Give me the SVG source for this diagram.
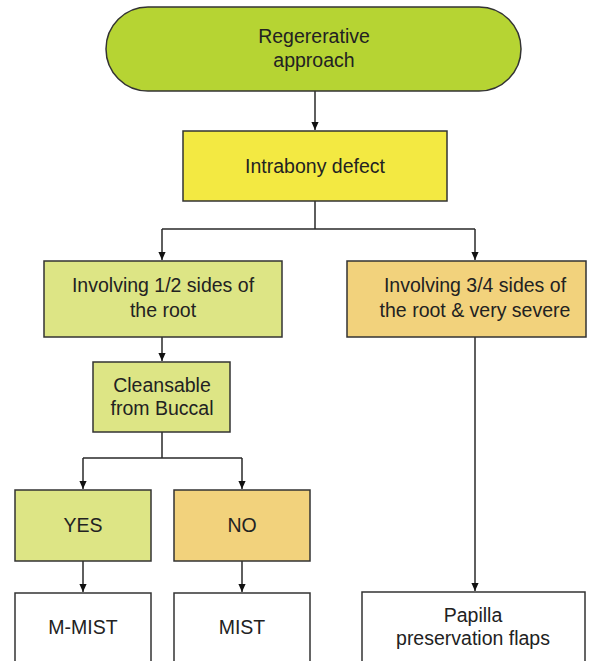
<svg xmlns="http://www.w3.org/2000/svg" width="589" height="661" viewBox="0 0 589 661">
<style>
.box{stroke:#333;stroke-width:1.5}
.t{font-family:"Liberation Sans",Arial,sans-serif;font-size:19.5px;fill:#222;text-anchor:middle}
.c{fill:none;stroke:#2a2a2a;stroke-width:1.5}
</style>
<defs>
<marker id="ah" viewBox="0 0 10 10" refX="10" refY="5" markerWidth="8" markerHeight="8" markerUnits="userSpaceOnUse" orient="auto">
<path d="M0,0.5 L10,5 L0,9.5 Z" fill="#111"/>
</marker>
</defs>
<rect width="589" height="661" fill="#fff"/>
<g id="connectors">
<path class="c" d="M315,91 V130" marker-end="url(#ah)"/>
<path class="c" d="M315,201 V229 M162,229 H475"/>
<path class="c" d="M162,229 V260" marker-end="url(#ah)"/>
<path class="c" d="M475,229 V260" marker-end="url(#ah)"/>
<path class="c" d="M162,337 V361" marker-end="url(#ah)"/>
<path class="c" d="M162,432 V458 M83,458 H242"/>
<path class="c" d="M83,458 V489" marker-end="url(#ah)"/>
<path class="c" d="M242,458 V489" marker-end="url(#ah)"/>
<path class="c" d="M83,561 V592" marker-end="url(#ah)"/>
<path class="c" d="M242,561 V592" marker-end="url(#ah)"/>
<path class="c" d="M475,337 V591" marker-end="url(#ah)"/>
</g>
<g id="start">
<rect class="box" x="106" y="7" width="415" height="84" rx="42" fill="#b6d433"/>
<text class="t" x="314" y="43">Regererative</text>
<text class="t" x="314" y="67">approach</text>
</g>
<g id="intrabony">
<rect class="box" x="183" y="131" width="264" height="70" fill="#f3e942"/>
<text class="t" x="315" y="173">Intrabony defect</text>
</g>
<g id="involving12">
<rect class="box" x="44" y="261" width="238" height="76" fill="#dde585"/>
<text class="t" x="163" y="292">Involving 1/2 sides of</text>
<text class="t" x="163" y="317">the root</text>
</g>
<g id="involving34">
<rect class="box" x="347" y="261" width="239" height="76" fill="#f2d27c"/>
<text class="t" x="475" y="292">Involving 3/4 sides of</text>
<text class="t" x="475" y="317">the root &amp; very severe</text>
</g>
<g id="cleansable">
<rect class="box" x="93" y="362" width="137" height="70" fill="#dde585"/>
<text class="t" x="162" y="392">Cleansable</text>
<text class="t" x="162" y="415">from Buccal</text>
</g>
<g id="yes">
<rect class="box" x="15" y="490" width="136" height="71" fill="#dde585"/>
<text class="t" x="83" y="532">YES</text>
</g>
<g id="no">
<rect class="box" x="174" y="490" width="136" height="71" fill="#f2d27c"/>
<text class="t" x="242" y="532">NO</text>
</g>
<g id="mmist">
<rect class="box" x="15" y="593" width="136" height="80" fill="#fff"/>
<text class="t" x="83" y="634">M-MIST</text>
</g>
<g id="mist">
<rect class="box" x="174" y="593" width="136" height="80" fill="#fff"/>
<text class="t" x="242" y="634">MIST</text>
</g>
<g id="papilla">
<rect class="box" x="362" y="592" width="223" height="80" fill="#fff"/>
<text class="t" x="473" y="622">Papilla</text>
<text class="t" x="473" y="645">preservation flaps</text>
</g>
</svg>
